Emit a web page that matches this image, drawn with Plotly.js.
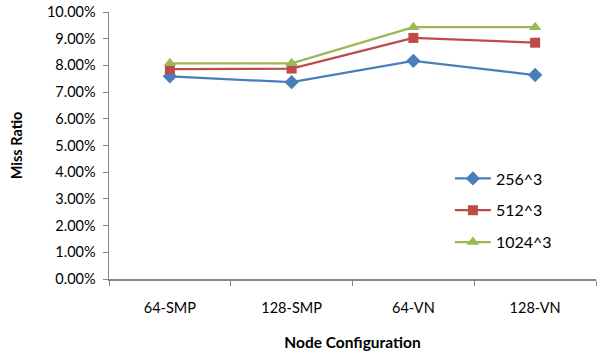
<!DOCTYPE html>
<html><head><meta charset="utf-8">
<script src="https://cdn.plot.ly/plotly-3.0.1.min.js"></script>
<style>body{margin:0;padding:0;background:#fff}#chart{width:597px;height:353px}</style>
</head><body><div id="chart"></div>
<script>
const categories = ['64-SMP', '128-SMP', '64-VN', '128-VN'];
const seriesNames = ['256^3', '512^3', '1024^3'];
const s256 = [0.0759, 0.0737, 0.0817, 0.0764];
const s512 = [0.0786, 0.0788, 0.0903, 0.0885];
const s1024 = [0.0808, 0.0808, 0.0943, 0.0943];
const colors = ['#4A7EBB', '#BE4B48', '#98B954'];
const symbols = ['diamond', 'square', 'triangle-up'];
const sizes = [11, 10, 11];
const allSeries = [s256, s512, s1024];

const traces = allSeries.map((vals, i) => ({
  x: categories, y: vals, name: seriesNames[i], type: 'scatter', mode: 'lines+markers',
  legendgroup: 'g' + i,
  line: {color: colors[i], width: 2.25},
  marker: {symbol: symbols[i], size: sizes[i], color: colors[i]}
}));

const font = "Lato, 'Open Sans', sans-serif";
const layout = {
  width: 597, height: 353,
  margin: {l: 109, r: 1, t: 12, b: 74},
  paper_bgcolor: '#fff', plot_bgcolor: '#fff',
  font: {family: font, size: 14.5, color: '#000'},
  showlegend: true,
  legend: {x: 0.70, y: 0.44, xanchor: 'left', yanchor: 'top', tracegroupgap: 8,
           font: {size: 16}, itemwidth: 36, bgcolor: 'rgba(0,0,0,0)'},
  xaxis: {
    type: 'category', tickson: 'boundaries', ticks: 'outside', ticklen: 5, tickcolor: '#868686',
    showline: true, linecolor: '#868686', linewidth: 1.5, showgrid: false, zeroline: false,
    tickfont: {size: 14.5}, range: [-0.5, 3.5], ticklabelstandoff: 15,
    title: {text: 'Node Configuration', font: {size: 15.5, weight: 'bold'}, standoff: 22}
  },
  yaxis: {
    range: [0, 0.1], dtick: 0.01, tickformat: '.2%', ticks: 'outside', ticklen: 5, tickcolor: '#868686',
    showline: true, linecolor: '#868686', linewidth: 1.5, showgrid: false, zeroline: false,
    tickfont: {size: 14.5}, ticklabelstandoff: 4,
    title: {text: 'Miss Ratio', font: {size: 14.5, weight: 'bold'}, standoff: 21}
  }
};
Plotly.newPlot('chart', traces, layout, {displayModeBar: false, staticPlot: true});
</script></body></html>
